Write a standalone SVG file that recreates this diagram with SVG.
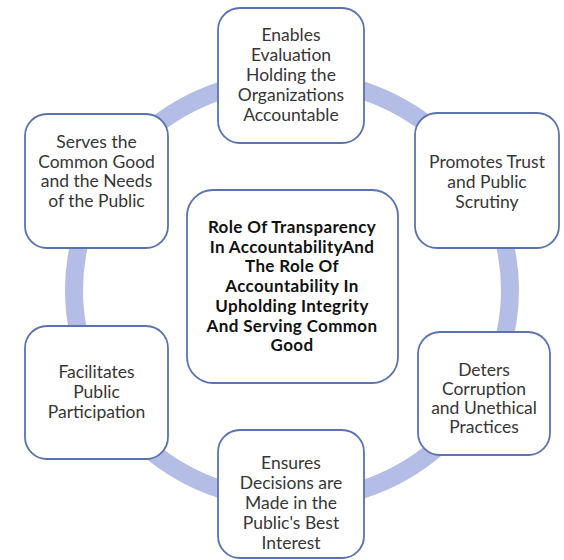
<svg xmlns="http://www.w3.org/2000/svg" width="564" height="560" viewBox="0 0 564 560">
<style>
.box{fill:#ffffff;stroke:#5a72b0;stroke-width:1.8}
.t{font-family:Lato,"Liberation Sans",sans-serif;font-size:17.5px;fill:#363636;text-anchor:middle}
.c{font-family:Lato,"Liberation Sans",sans-serif;font-size:17px;letter-spacing:0.35px;font-weight:bold;fill:#111111;text-anchor:middle}
</style>
<rect width="564" height="560" fill="#ffffff"/>
<g id="connectors">
<ellipse cx="292" cy="290" rx="218" ry="211" fill="none" stroke="#b4bde6" stroke-width="18"/>
</g>
<g id="n-top">
<rect class="box" x="218" y="8" width="146" height="135" rx="22"/>
<text class="t"><tspan x="291" y="41">Enables</tspan><tspan x="291" y="61">Evaluation</tspan><tspan x="291" y="81">Holding the</tspan><tspan x="291" y="101">Organizations</tspan><tspan x="291" y="121">Accountable</tspan></text>
</g>
<g id="n-promotes">
<rect class="box" x="415" y="113" width="144" height="135" rx="22"/>
<text class="t"><tspan x="487" y="168">Promotes Trust</tspan><tspan x="487" y="188">and Public</tspan><tspan x="487" y="208">Scrutiny</tspan></text>
</g>
<g id="n-serves">
<rect class="box" x="25" y="114" width="143" height="134" rx="22"/>
<text class="t"><tspan x="96.5" y="148">Serves the</tspan><tspan x="96.5" y="168">Common Good</tspan><tspan x="96.5" y="187">and the Needs</tspan><tspan x="96.5" y="207">of the Public</tspan></text>
</g>
<g id="n-facilitates">
<rect class="box" x="25" y="326" width="143" height="133" rx="22"/>
<text class="t"><tspan x="96.5" y="378">Facilitates</tspan><tspan x="96.5" y="398">Public</tspan><tspan x="96.5" y="418">Participation</tspan></text>
</g>
<g id="n-deters">
<rect class="box" x="418" y="332" width="132" height="123" rx="22"/>
<text class="t"><tspan x="484" y="376">Deters</tspan><tspan x="484" y="395">Corruption</tspan><tspan x="484" y="414">and Unethical</tspan><tspan x="484" y="433">Practices</tspan></text>
</g>
<g id="n-ensures">
<rect class="box" x="218" y="430" width="146" height="128" rx="22"/>
<text class="t"><tspan x="291" y="469">Ensures</tspan><tspan x="291" y="489">Decisions are</tspan><tspan x="291" y="509">Made in the</tspan><tspan x="291" y="529">Public's Best</tspan><tspan x="291" y="549">Interest</tspan></text>
</g>
<g id="n-center">
<rect class="box" x="187" y="190" width="211" height="193" rx="26"/>
<text class="c"><tspan x="292" y="233">Role Of Transparency</tspan><tspan x="292" y="253">In AccountabilityAnd</tspan><tspan x="292" y="272">The Role Of</tspan><tspan x="292" y="292">Accountability In</tspan><tspan x="292" y="312">Upholding Integrity</tspan><tspan x="292" y="332">And Serving Common</tspan><tspan x="292" y="351">Good</tspan></text>
</g>
</svg>
